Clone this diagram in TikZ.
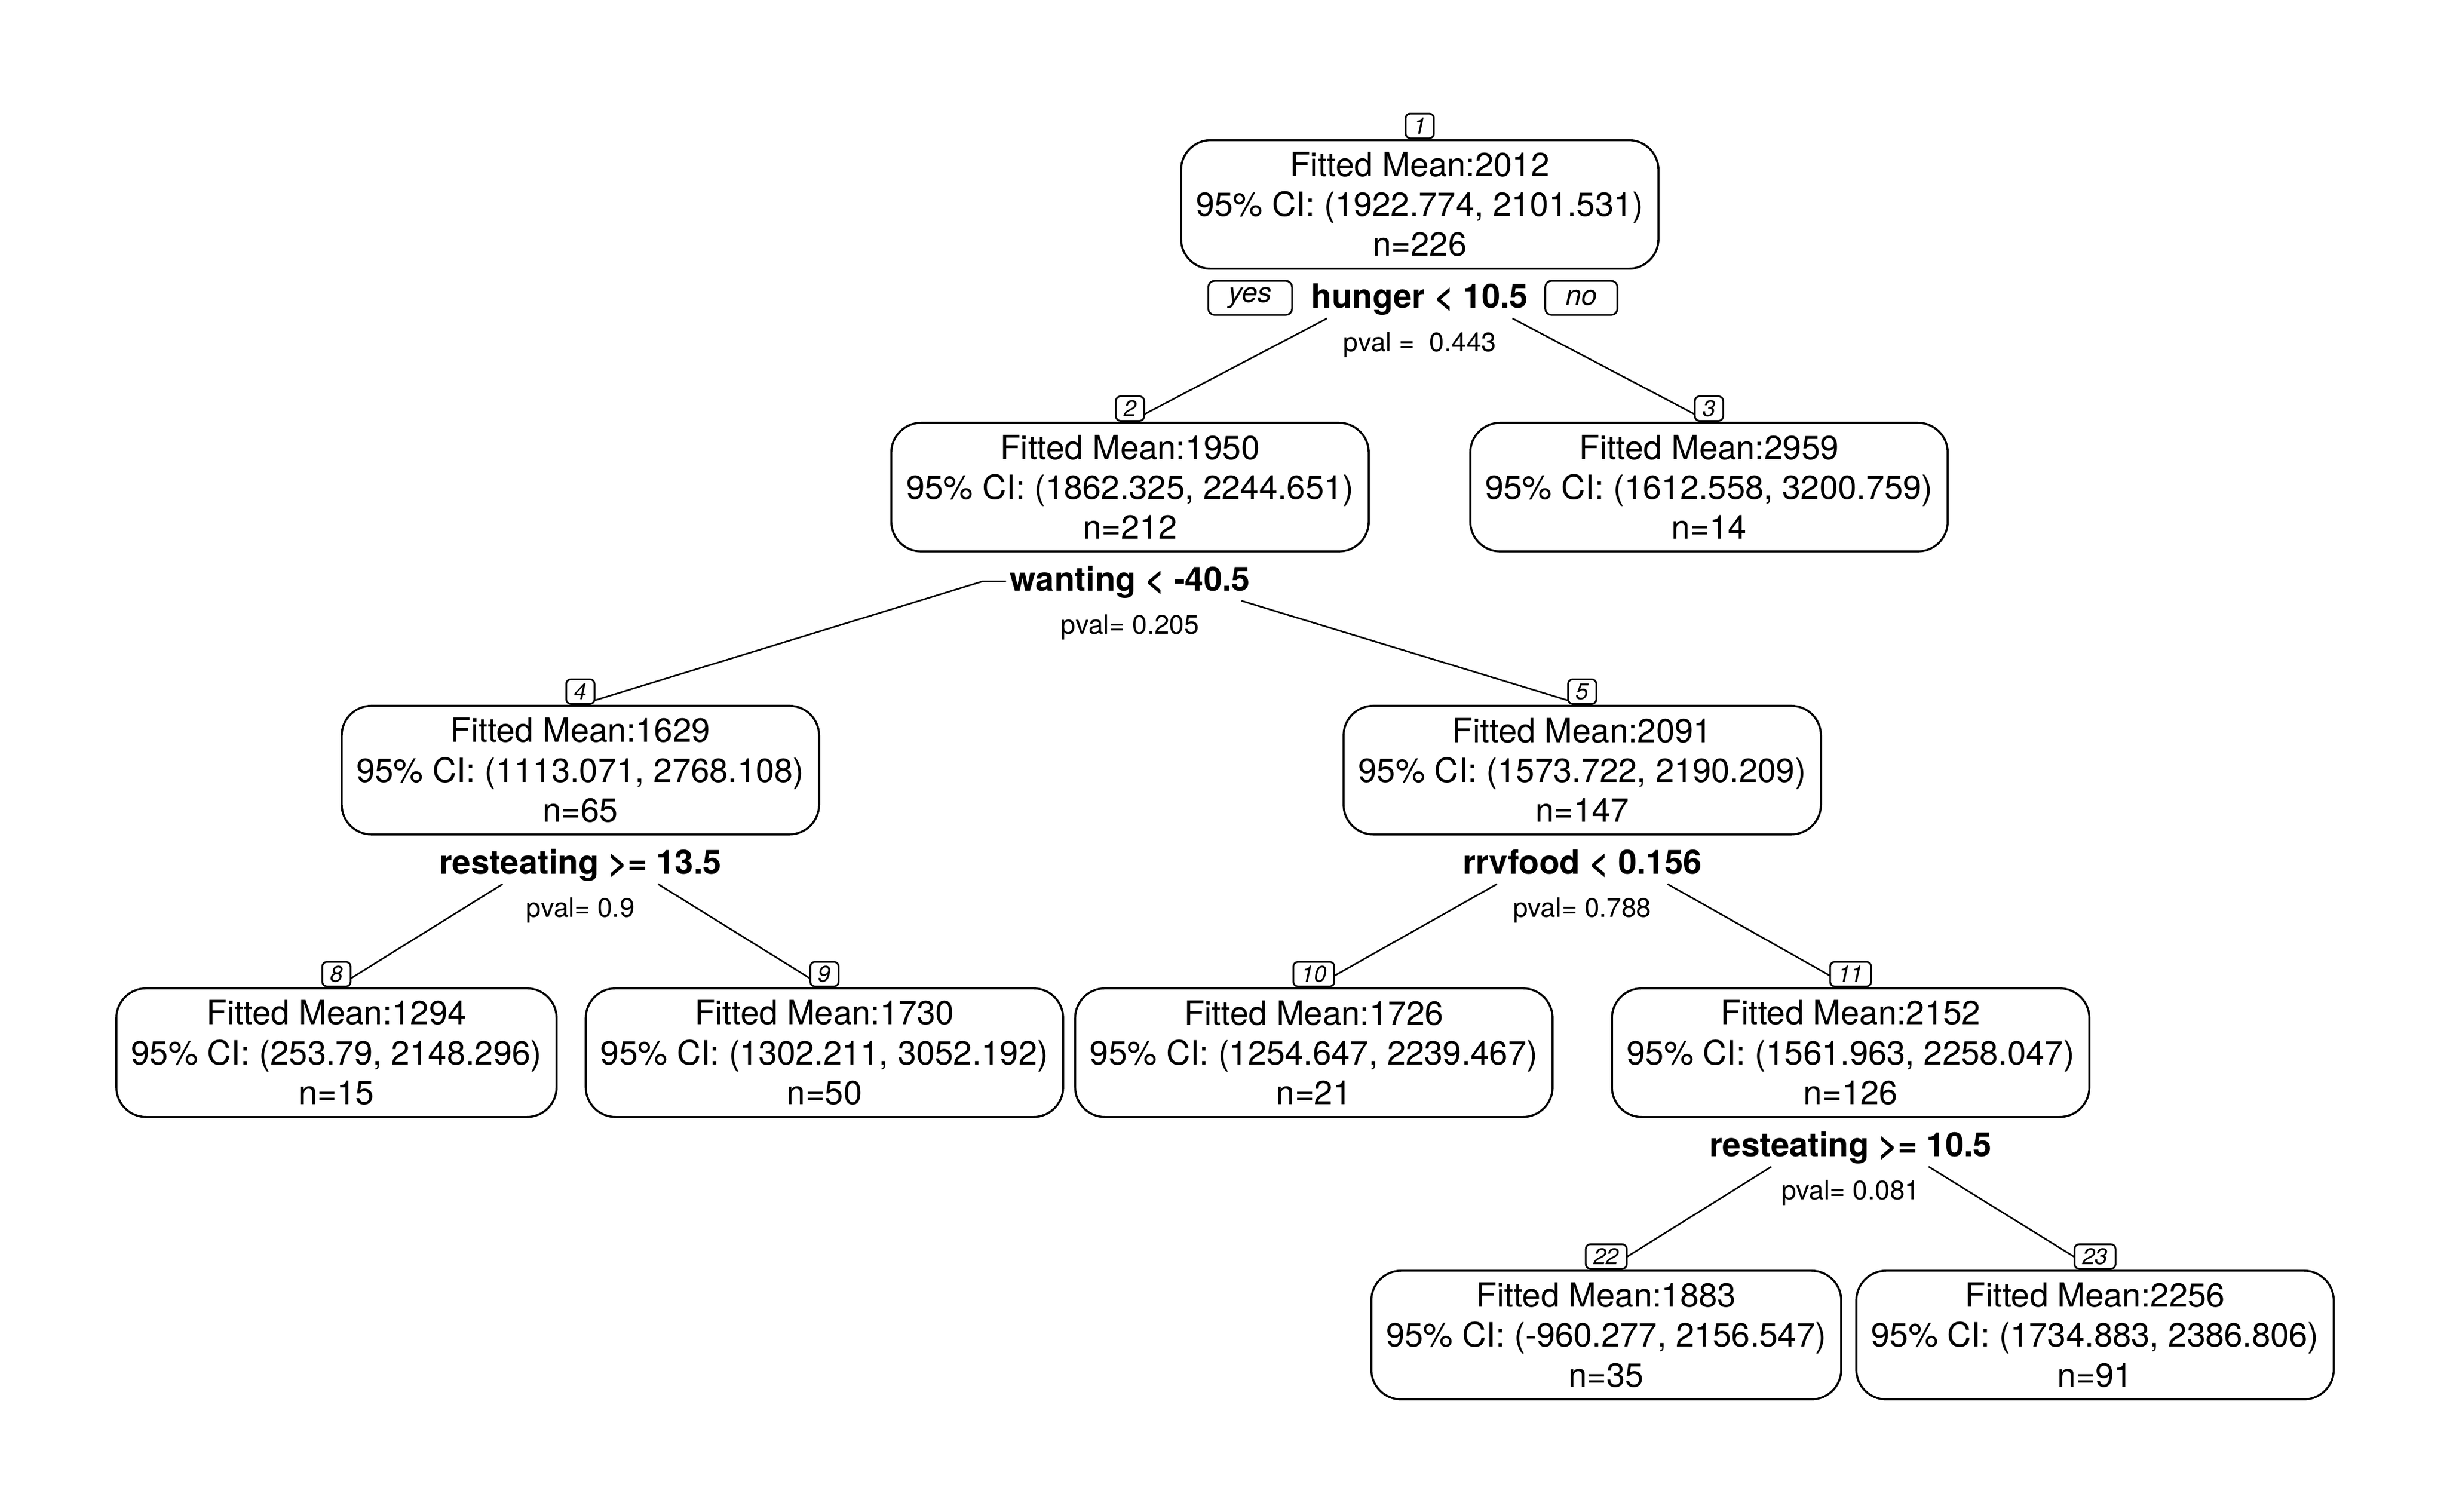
\documentclass[tikz,border=0pt]{standalone}
\usepackage{fontspec}
\setmainfont{TeX Gyre Heros}
\usetikzlibrary{calc}
\begin{document}
\begin{tikzpicture}[x=1pt,y=-1pt,
  box/.style={draw, line width=1.3pt, rounded corners=19pt, align=center,
    minimum height=82pt, inner xsep=9.5pt, inner ysep=0pt,
    font=\fontsize{21.3}{25.4}\selectfont},
  split/.style={anchor=base, inner sep=0pt, font=\fontsize{21.3}{25.4}\selectfont\bfseries},
  pv/.style={anchor=base, inner sep=0pt, font=\fontsize{17}{20}\selectfont},
  tag/.style={draw, fill=white, line width=1.1pt, rounded corners=3pt, anchor=south,
    minimum height=15.7pt, inner xsep=5pt, inner ysep=0pt,
    font=\fontsize{14.5}{15}\selectfont\itshape},
  yn/.style={draw, line width=1.1pt, rounded corners=4pt, minimum height=21.8pt,
    inner xsep=13pt, inner ysep=0pt, font=\fontsize{18}{20}\selectfont\itshape},
  edge/.style={line width=1.0pt}]

\useasboundingbox (0,0) rectangle (1560,963.8);

% boxes
\node[box] (n1)  at (905.1,130.3) {Fitted Mean:2012\\95\% CI: (1922.774, 2101.531)\\n=226};
\node[box] (n2)  at (720.4,310.5) {Fitted Mean:1950\\95\% CI: (1862.325, 2244.651)\\n=212};
\node[box] (n3)  at (1089.5,310.5) {Fitted Mean:2959\\95\% CI: (1612.558, 3200.759)\\n=14};
\node[box] (n4)  at (370,490.9) {Fitted Mean:1629\\95\% CI: (1113.071, 2768.108)\\n=65};
\node[box] (n5)  at (1008.7,490.9) {Fitted Mean:2091\\95\% CI: (1573.722, 2190.209)\\n=147};
\node[box] (n8)  at (214.5,671) {Fitted Mean:1294\\95\% CI: (253.79, 2148.296)\\n=15};
\node[box] (n9)  at (525.6,671) {Fitted Mean:1730\\95\% CI: (1302.211, 3052.192)\\n=50};
\node[box] (n10) at (837.6,671) {Fitted Mean:1726\\95\% CI: (1254.647, 2239.467)\\n=21};
\node[box] (n11) at (1179.8,671) {Fitted Mean:2152\\95\% CI: (1561.963, 2258.047)\\n=126};
\node[box] (n22) at (1024,851) {Fitted Mean:1883\\95\% CI: (-960.277, 2156.547)\\n=35};
\node[box] (n23) at (1335.6,851) {Fitted Mean:2256\\95\% CI: (1734.883, 2386.806)\\n=91};

% split labels and p-values
\node[split] (s1)  at ($(n1.south)+(0,24.5)$) {hunger < 10.5};
\node[pv]    (p1)  at ($(n1.south)+(0,52)$) {pval = \ 0.443};
\node[yn]    (yes) at (797,189.9) {yes};
\node[yn]    (no)  at (1008.1,189.9) {no};
\node[split] (s2)  at ($(n2.south)+(0,24.5)$) {wanting < -40.5};
\node[pv]    (p2)  at ($(n2.south)+(0,52)$) {pval= 0.205};
\node[split] (s4)  at ($(n4.south)+(0,24.5)$) {resteating >= 13.5};
\node[pv]    (p4)  at ($(n4.south)+(0,52)$) {pval= 0.9};
\node[split] (s5)  at ($(n5.south)+(0,24.5)$) {rrvfood < 0.156};
\node[pv]    (p5)  at ($(n5.south)+(0,52)$) {pval= 0.788};
\node[split] (s11) at ($(n11.south)+(0,24.5)$) {resteating >= 10.5};
\node[pv]    (p11) at ($(n11.south)+(0,52)$) {pval= 0.081};

% edge start points
\coordinate (e1l) at ($(n1.south)+(-59.1,31)$);
\coordinate (e1r) at ($(n1.south)+(59.1,31)$);
\coordinate (e2a) at ($(n2.south)+(-79.1,18.4)$);
\coordinate (e2b) at ($(n2.south)+(-93.9,18.4)$);
\coordinate (e2r) at ($(n2.south)+(71,30.8)$);
\coordinate (e4l) at ($(n4.south)+(-49.6,31)$);
\coordinate (e4r) at ($(n4.south)+(49.5,31)$);
\coordinate (e5l) at ($(n5.south)+(-54.4,31)$);
\coordinate (e5r) at ($(n5.south)+(54.4,31)$);
\coordinate (e11l) at ($(n11.south)+(-50.5,31)$);
\coordinate (e11r) at ($(n11.south)+(49.7,31)$);

% edges
\draw[edge] (e1l) -- (n2.north);
\draw[edge] (e1r) -- (n3.north);
\draw[edge] (e2a) -- (e2b) -- (n4.north);
\draw[edge] (e2r) -- (n5.north);
\draw[edge] (e4l) -- (n8.north);
\draw[edge] (e4r) -- (n9.north);
\draw[edge] (e5l) -- (n10.north);
\draw[edge] (e5r) -- (n11.north);
\draw[edge] (e11l) -- (n22.north);
\draw[edge] (e11r) -- (n23.north);

% node number tags
\node[tag] (t1)  at (n1.north) {1};
\node[tag] (t2)  at (n2.north) {2};
\node[tag] (t3)  at (n3.north) {3};
\node[tag] (t4)  at (n4.north) {4};
\node[tag] (t5)  at (n5.north) {5};
\node[tag] (t8)  at (n8.north) {8};
\node[tag] (t9)  at (n9.north) {9};
\node[tag] (t10) at (n10.north) {10};
\node[tag] (t11) at (n11.north) {11};
\node[tag] (t22) at (n22.north) {22};
\node[tag] (t23) at (n23.north) {23};
\end{tikzpicture}
\end{document}
